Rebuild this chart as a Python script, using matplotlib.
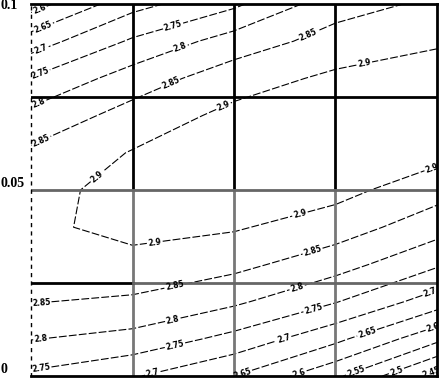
import numpy as np
import matplotlib
matplotlib.use("Agg")
import matplotlib.pyplot as plt

# Grid columns (x) and rows (y) of the sampled field
x_cols = [0.0, 0.25, 0.5, 0.75, 1.0]
y_rows = [0.0, 0.01, 0.02, 0.03, 0.04, 0.05, 0.06, 0.07, 0.08, 0.09, 0.10]

# Field values, one list per column (bottom -> top)
z_x000 = [2.740, 2.802, 2.852, 2.874, 2.887, 2.880, 2.859, 2.815, 2.753, 2.674, 2.578]
z_x025 = [2.705, 2.784, 2.843, 2.881, 2.918, 2.921, 2.903, 2.869, 2.824, 2.757, 2.683]
z_x050 = [2.650, 2.735, 2.809, 2.864, 2.905, 2.926, 2.929, 2.914, 2.877, 2.823, 2.740]
z_x075 = [2.560, 2.663, 2.753, 2.821, 2.875, 2.916, 2.933, 2.931, 2.910, 2.869, 2.830]
z_x100 = [2.430, 2.563, 2.675, 2.757, 2.821, 2.870, 2.917, 2.939, 2.931, 2.892, 2.860]

levels = [2.45, 2.5, 2.55, 2.6, 2.65, 2.7, 2.75, 2.8, 2.85, 2.9]
y_tick_values = [0.0, 0.05, 0.1]
y_tick_labels = ["0", "0.05", "0.1"]

# label positions (data coords) for the contour labels
label_pos = [
    # upper-left edge
    (0.02, 0.0987), (0.03, 0.0938), (0.025, 0.0878), (0.022, 0.0814), (0.02, 0.0733),
    (0.025, 0.0632),
    # upper interior
    (0.347, 0.0952), (0.367, 0.0884), (0.342, 0.079), (0.473, 0.0728),
    (0.68, 0.0925), (0.818, 0.0855),
    # around the ridge
    (0.163, 0.0535), (0.305, 0.0358), (0.663, 0.0433), (0.985, 0.0567),
    # lower interior
    (0.695, 0.033), (0.355, 0.0234), (0.653, 0.0247), (0.35, 0.0148),
    (0.355, 0.0081), (0.695, 0.0183), (0.621, 0.0105), (0.983, 0.0223),
    (0.828, 0.0116), (0.99, 0.0132),
    # bottom edge
    (0.30, 0.0007), (0.52, 0.0007), (0.66, 0.0008), (0.80, 0.0012),
    (0.90, 0.0014), (0.985, 0.0010),
    # lower-left edge
    (0.025, 0.0198), (0.025, 0.0098), (0.025, 0.0020),
]

X, Y = np.meshgrid(x_cols, y_rows)
Z = np.column_stack([z_x000, z_x025, z_x050, z_x075, z_x100])

fig = plt.figure(figsize=(4.42, 3.79), dpi=100)
ax = fig.add_axes([31 / 442, 3 / 379, (437 - 31) / 442, (376 - 4) / 379])

cs = ax.contour(X, Y, Z, levels=levels, colors="black", linewidths=0.8,
                linestyles=[(0, (7, 2))])
ax.clabel(cs, levels=levels, manual=label_pos, inline=True, inline_spacing=2,
          fmt="%g", fontsize=5.5)
for t in cs.labelTexts:
    t.set_fontweight("bold")

# grid lines (scanned look: upper part solid black, lower part grey)
for gx in [0.25, 0.5, 0.75]:
    ax.axvline(gx, ymin=0.5, ymax=1.0, color="black", lw=2)
    ax.axvline(gx, ymin=0.0, ymax=0.5, color="#777777", lw=2)
ax.axhline(0.075, color="black", lw=2)
ax.axhline(0.05, color="#666666", lw=2)
ax.axhline(0.025, xmin=0.0, xmax=0.25, color="black", lw=2)
ax.axhline(0.025, xmin=0.25, xmax=1.0, color="#666666", lw=2)

ax.set_xlim(0, 1)
ax.set_ylim(0, 0.1)
ax.set_xticks([])
ax.set_yticks(y_tick_values)
ax.set_yticklabels(y_tick_labels, fontfamily="Liberation Serif",
                   fontweight="bold", fontsize=10)
ax.tick_params(axis="y", length=0, pad=22)
for lab in ax.get_yticklabels():
    lab.set_horizontalalignment("left")
    if lab.get_text() in ("0", "0.05"):
        lab.set_verticalalignment("bottom")

for side in ["top", "right", "bottom"]:
    ax.spines[side].set_linewidth(2)
    ax.spines[side].set_color("black")
ax.spines["left"].set_linewidth(1)
ax.spines["left"].set_linestyle((0, (2, 4)))

fig.savefig("out.png", dpi=100)
